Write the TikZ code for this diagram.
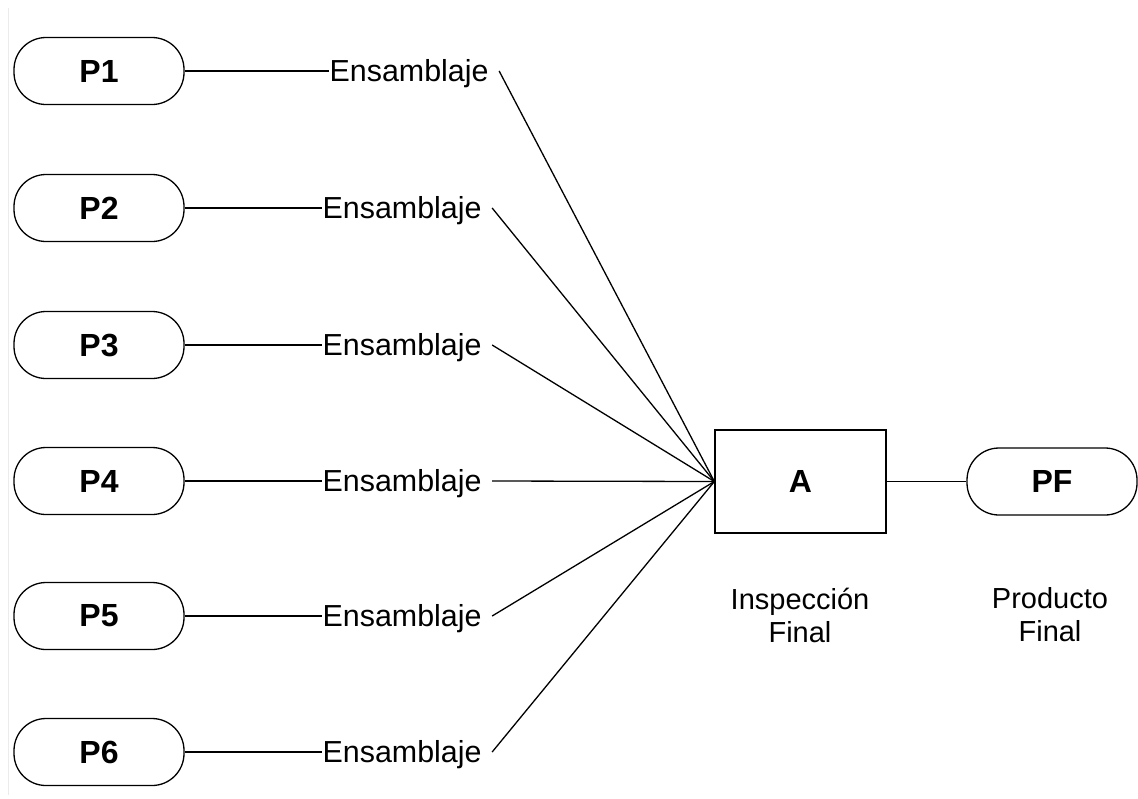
\documentclass[tikz,border=0pt]{standalone}
\usepackage{fontspec}
\setmainfont{Liberation Sans}
\usetikzlibrary{positioning}

\tikzset{
  pieza/.style={draw, rounded corners=16pt, minimum width=85pt, minimum height=33.5pt, inner sep=0pt, font=\fontsize{16}{18}\selectfont\bfseries},
  caja/.style={draw, minimum width=85.5pt, minimum height=51.5pt, inner sep=0pt, font=\fontsize{16}{18}\selectfont\bfseries},
  ens/.style={inner sep=0pt, font=\fontsize{15.2}{17}\selectfont},
  etiq/.style={inner sep=0pt, align=center, font=\fontsize{14.5}{16.5}\selectfont}
}

\begin{document}
\begin{tikzpicture}[x=0.5pt,y=-0.5pt,line width=0.65pt]
\useasboundingbox (0,0) rectangle (1138,798);
\draw[black!8,line width=0.5pt] (8,8) -- (8,795);

% piezas y ensamblajes
\foreach \i/\y/\ex in {1/71/329,2/208/322,3/345/322,4/481/322,5/616/322,6/752/322}{
  \node[pieza] (p\i) at (99,\y) {P\i};
  \node[ens, anchor=base west] (e\i) at (\ex,\y+10) {Ensamblaje};
  \draw (p\i.east) -- (p\i -| e\i.west);
}

% inspeccion y producto final
\node[caja] (A) at (800.5,481.5) {A};
\node[pieza] (pf) at (1052,481.5) {PF};
\draw (A.east) -- (pf.west);
\node[etiq, anchor=north] (insp) at (800,587) {Inspección\\Final};
\node[etiq, anchor=north] (prod) at (1050,587) {Producto\\Final};

\foreach \i in {1,...,6}
  \draw ([xshift=5pt]e\i.east |- p\i) -- (A.west);

\end{tikzpicture}
\end{document}
